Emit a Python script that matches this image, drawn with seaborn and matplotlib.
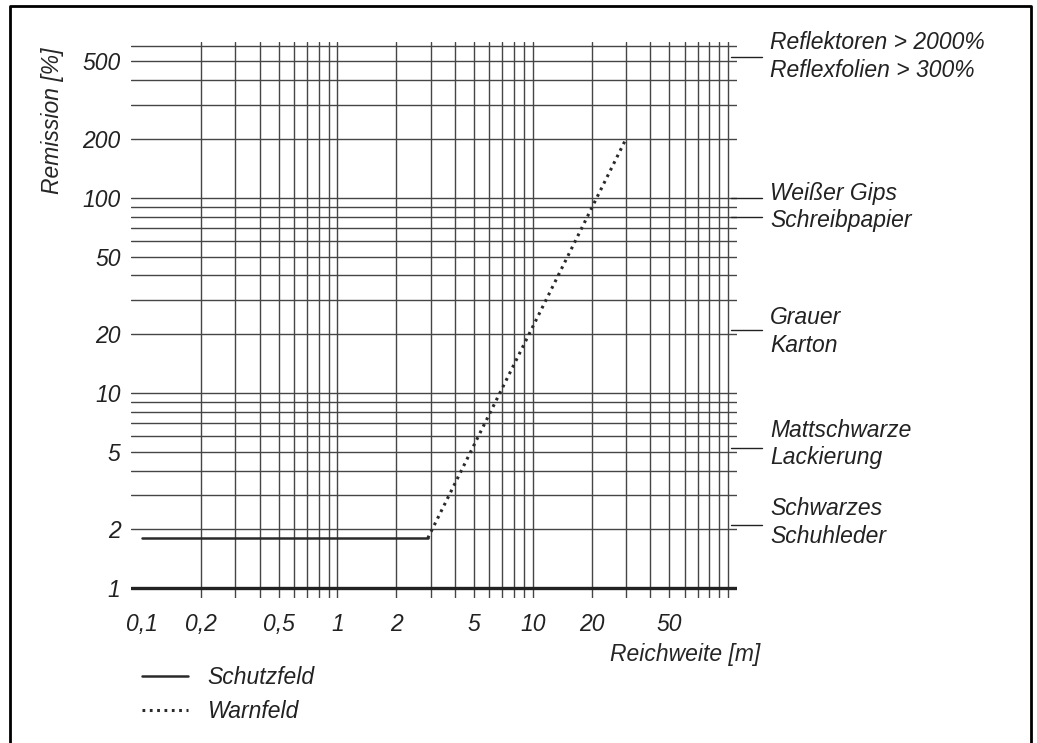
import numpy as np
import pandas as pd
import seaborn as sns
import matplotlib.pyplot as plt
from matplotlib.lines import Line2D
from matplotlib.transforms import blended_transform_factory

# log paper grid
x_grid = [0.2, 0.3, 0.4, 0.5, 0.6, 0.7, 0.8, 0.9, 1, 2, 3, 4, 5, 6, 7, 8, 9,
          10, 20, 30, 40, 50, 60, 70, 80, 90, 100]
y_grid = [1, 2, 3, 4, 5, 6, 7, 8, 9, 10, 20, 30, 40, 50, 60, 70, 80, 90,
          100, 200, 300, 400, 500, 600]

x_ticks = [0.1, 0.2, 0.5, 1, 2, 5, 10, 20, 50]
x_ticklabels = ["0,1", "0,2", "0,5", "1", "2", "5", "10", "20", "50"]
y_ticks = [1, 2, 5, 10, 20, 50, 100, 200, 500]
y_ticklabels = ["1", "2", "5", "10", "20", "50", "100", "200", "500"]

# curves
schutz_x = [0.1, 2.9]
schutz_y = [1.8, 1.8]
warn_x = [2.9, 30]
warn_y = [1.8, 200]

# reference materials on the right
materials = ["Reflektoren > 2000%\nReflexfolien > 300%", "Weißer Gips",
             "Schreibpapier", "Grauer\nKarton", "Mattschwarze\nLackierung",
             "Schwarzes\nSchuhleder"]
material_y = [530, 100, 80, 21, 5.2, 2.1]

W, H = 1037, 743

sns.set_style("white")
plt.rcParams["font.family"] = ["Liberation Sans", "DejaVu Sans"]
plt.rcParams["font.style"] = "italic"
plt.rcParams["font.size"] = 16.5

fig = plt.figure(figsize=(W / 100, H / 100), dpi=100)
ax = fig.add_axes([131 / W, 1 - 598 / H, (737 - 131) / W, (598 - 42) / H])

ax.set_xscale("log")
ax.set_yscale("log")
ax.set_xlim(0.0876, 111.2)
ax.set_ylim(0.889, 629)

grid_col = "#454545"
for xv in x_grid:
    ax.axvline(xv, color=grid_col, lw=1.0, zorder=1)
for yv in y_grid:
    ax.axhline(yv, color=grid_col, lw=1.0, zorder=1)
ax.axhline(1, color="#222222", lw=2.4, zorder=2)

schutz = pd.DataFrame({"x": schutz_x, "y": schutz_y})
warn = pd.DataFrame({"x": warn_x, "y": warn_y})
sns.lineplot(data=schutz, x="x", y="y", ax=ax, color="#2a2a2a", lw=1.8,
             label="Schutzfeld", zorder=3)
sns.lineplot(data=warn, x="x", y="y", ax=ax, color="#2a2a2a", lw=2.2,
             linestyle=(0, (0.9, 1.5)), label="Warnfeld", zorder=3)

for s in ax.spines.values():
    s.set_visible(False)
ax.minorticks_off()
ax.set_xticks(x_ticks)
ax.set_xticklabels(x_ticklabels)
ax.set_yticks(y_ticks)
ax.set_yticklabels(y_ticklabels)
ax.tick_params(axis="both", length=0, colors="#222222")
ax.tick_params(axis="x", pad=10.5)
ax.tick_params(axis="y", pad=7.5)

ax.set_xlabel("Reichweite [m]", loc="right")
ax.xaxis.set_label_coords((760 - 131) / 606, (598 - 643) / 556)
ax.set_ylabel("Remission [%]")
ax.yaxis.set_label_coords((64 - 131) / 606, (598 - 121) / 556)

# small vertical nudges of the labels relative to their marker lines (points)
label_dy = [0, 3, -2.5, -1, 3, 2]
trans = blended_transform_factory(ax.transAxes, ax.transData)
for label, yv, dy in zip(materials, material_y, label_dy):
    ax.plot([(731 - 131) / 606, (762 - 131) / 606], [yv, yv], transform=trans,
            color="#222222", lw=1.0, clip_on=False)
    ax.annotate(label, xy=((770 - 131) / 606, yv), xycoords=trans,
                xytext=(0, dy), textcoords="offset points", ha="left",
                va="center", linespacing=1.25, color="#222222",
                annotation_clip=False)

leg = ax.legend(loc="upper left", bbox_to_anchor=(142 / W, 1 - 666 / H),
                bbox_transform=fig.transFigure, frameon=False, borderpad=0,
                borderaxespad=0, handlelength=2.0, handletextpad=0.85,
                labelspacing=0.5)
for t in leg.get_texts():
    t.set_color("#222222")

# outer frame
fx0, fx1, fy = 10 / W, 1031 / W, 1 - 6 / H
fig.add_artist(Line2D([fx0, fx0, fx1, fx1], [-0.01, fy, fy, -0.01],
                      transform=fig.transFigure, color="black", lw=2.0))

fig.savefig("out.png", dpi=100)
